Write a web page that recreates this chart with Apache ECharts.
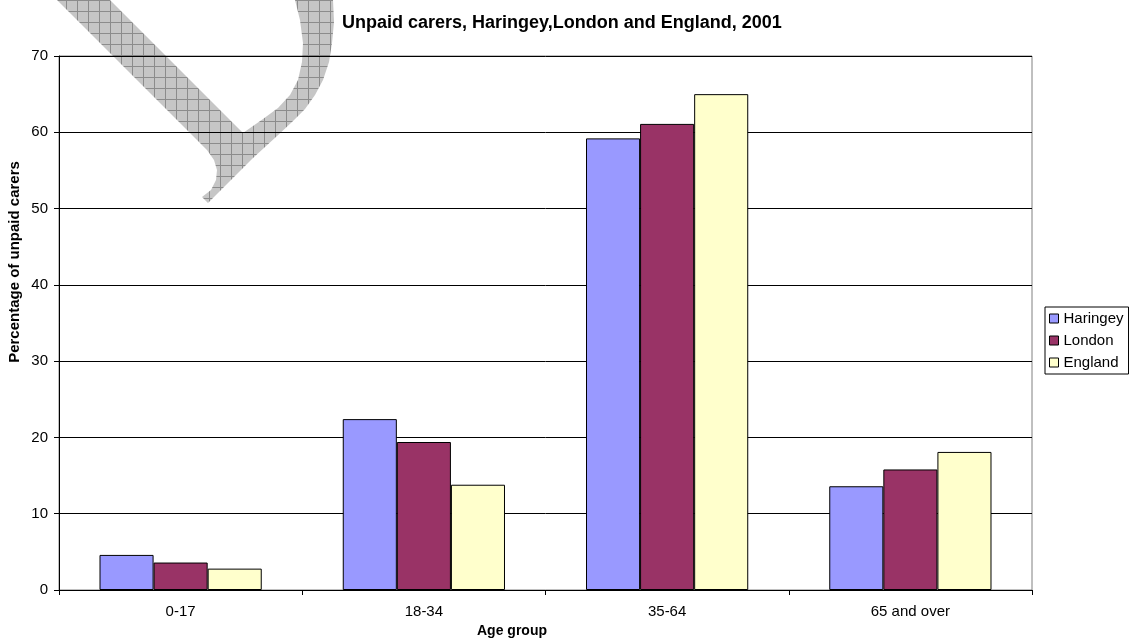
<!DOCTYPE html>
<html>
<head>
<meta charset="utf-8">
<script src="https://cdn.jsdelivr.net/npm/echarts@6/dist/echarts.min.js"></script>
<style>
html, body { margin: 0; padding: 0; background: #fff; }
#chart { width: 1129px; height: 639px; }
</style>
</head>
<body>
<div id="chart"></div>
<script>
var categories = ['0-17', '18-34', '35-64', '65 and over'];
var haringey = [4.6, 22.4, 59.2, 13.6];
var london = [3.6, 19.4, 61.1, 15.8];
var england = [2.8, 13.8, 65.0, 18.1];
var yTicks = { min: 0, max: 70, interval: 10 };

var FONT = 'Arial, "Liberation Sans", sans-serif';

// hatch pattern for the watermark shape
var hatch = document.createElement('canvas');
hatch.width = 11; hatch.height = 11;
(function () {
    var c = hatch.getContext('2d');
    c.fillStyle = '#c6c6c6';
    c.fillRect(0, 0, 11, 11);
    c.fillStyle = '#8c8c8c';
    c.fillRect(0, 0, 11, 1);
    c.fillRect(0, 0, 1, 11);
})();

// outline of the watermark glyph (pixel outline, not data)
var markOutline = [
    [57, 0], [200, 143], [207, 150], [214, 160], [217, 170], [216, 180], [211, 190], [202, 197],
    [208, 203], [230, 181], [253, 158], [277, 136], [292, 122], [305, 109], [315, 95], [323, 80],
    [329, 62], [332, 43], [334, 22], [333, 0],
    [295, 0], [300, 20], [303, 43], [302, 62], [298, 80], [290, 95], [278, 108], [263, 119],
    [243, 133], [110, 0]
];

var myChart = echarts.init(document.getElementById('chart'));

function barSeries(name, color, data) {
    return {
        name: name,
        type: 'bar',
        barGap: 0,
        barCategoryGap: '33.3%',
        itemStyle: { color: color, borderColor: '#000', borderWidth: 1 },
        data: data
    };
}

var option = {
    backgroundColor: '#fff',
    animation: false,
    textStyle: { fontFamily: FONT },
    title: {
        text: 'Unpaid carers, Haringey,London and England, 2001',
        left: 337,
        top: 9,
        textStyle: { fontFamily: FONT, fontSize: 18, fontWeight: 'bold', color: '#000' }
    },
    grid: {
        left: 59, right: 97, top: 56, bottom: 49,
        show: true, borderColor: '#808080', borderWidth: 1, backgroundColor: 'transparent'
    },
    legend: {
        orient: 'vertical',
        left: 1045,
        top: 307,
        padding: [4, 5, 4, 4],
        backgroundColor: '#fff',
        borderColor: '#000',
        borderWidth: 1,
        borderRadius: 0,
        itemWidth: 9,
        itemHeight: 9,
        itemGap: 7,
        icon: 'rect',
        itemStyle: { borderColor: '#000', borderWidth: 1 },
        textStyle: { fontFamily: FONT, fontSize: 15, color: '#000', lineHeight: 15 },
        data: ['Haringey', 'London', 'England']
    },
    xAxis: {
        type: 'category',
        data: categories,
        axisLine: { lineStyle: { color: '#000', width: 1 } },
        axisTick: { show: true, length: 5, interval: 0, lineStyle: { color: '#000' } },
        axisLabel: { fontFamily: FONT, fontSize: 15, color: '#000', margin: 14, interval: 0 },
        splitLine: { show: false }
    },
    yAxis: {
        type: 'value',
        min: yTicks.min,
        max: yTicks.max,
        interval: yTicks.interval,
        axisLine: { show: true, lineStyle: { color: '#000', width: 1 } },
        axisTick: { show: true, length: 5, lineStyle: { color: '#000' } },
        axisLabel: { fontFamily: FONT, fontSize: 15, color: '#000', margin: 11 },
        splitLine: { show: true, lineStyle: { color: '#000', width: 1 } }
    },
    graphic: [
        {
            type: 'polygon',
            z: -10,
            silent: true,
            shape: { points: markOutline },
            style: { fill: { image: hatch, repeat: 'repeat' }, stroke: null }
        },
        {
            type: 'text',
            x: 15, y: 262,
            rotation: Math.PI / 2,
            style: {
                text: 'Percentage of unpaid carers',
                font: 'bold 15px ' + FONT,
                fill: '#000',
                align: 'center',
                verticalAlign: 'middle'
            }
        },
        {
            type: 'text',
            x: 512, y: 631,
            style: {
                text: 'Age group',
                font: 'bold 14px ' + FONT,
                fill: '#000',
                align: 'center',
                verticalAlign: 'middle'
            }
        }
    ],
    series: [
        barSeries('Haringey', '#9999FF', haringey),
        barSeries('London', '#993366', london),
        barSeries('England', '#FFFFCC', england)
    ]
};

myChart.setOption(option);
</script>
</body>
</html>
